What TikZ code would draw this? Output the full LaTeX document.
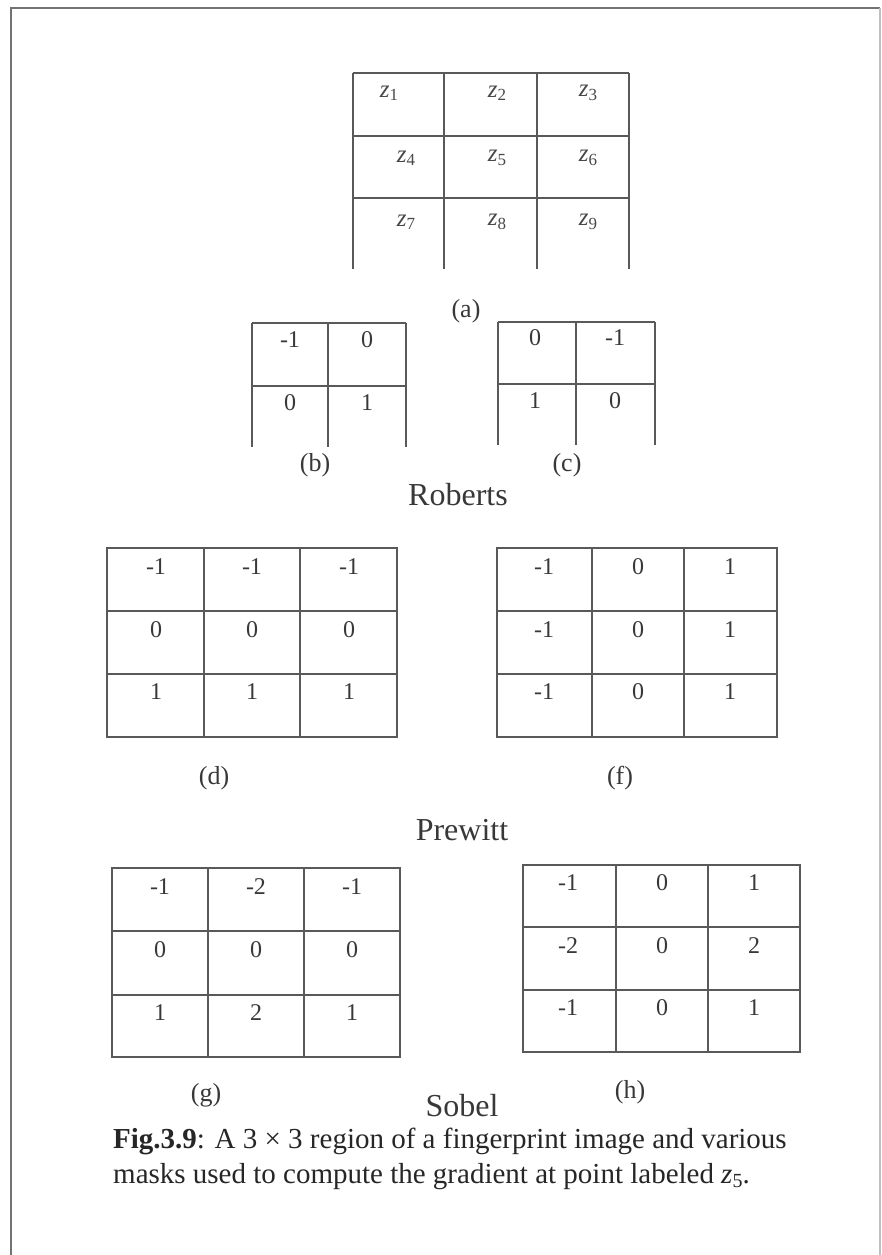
\documentclass[tikz,border=0pt]{standalone}
\usepackage{fontspec}
\setmainfont{Liberation Serif}
\newcommand{\zsub}[1]{\textit{z}\raisebox{-0.3ex}{\fontsize{17}{17}\selectfont #1}}
\begin{document}
\begin{tikzpicture}[x=1pt,y=-1pt,
  gridline/.style={draw=black!65, line width=1.3pt},
  frameline/.style={draw=black!55, line width=1.8pt},
  cell/.style={font=\fontsize{24}{28}\selectfont, text=black!78, inner sep=0pt},
  zcell/.style={font=\fontsize{25}{29}\selectfont, text=black!72, inner sep=0pt},
  sublabel/.style={font=\fontsize{26}{30}\selectfont, text=black!78, inner sep=0pt},
  method/.style={font=\fontsize{32}{36}\selectfont, text=black!78, inner sep=0pt},
  captiontext/.style={font=\fontsize{29}{35}\selectfont, text=black!85, inner sep=0pt, anchor=base west},
]
\useasboundingbox (0,0) rectangle (882,1255);
\draw[frameline] (11,1255) -- (11,8) -- (880,8);
\draw[draw=black!25, line width=1.2pt] (880,8) -- (880,1255);

% (a) region
\draw[gridline] (353,73) -- (629,73) (353,136) -- (629,136) (353,198) -- (629,198);
\foreach \x in {353,444,537,629} \draw[gridline] (\x,73) -- (\x,269);
\node[zcell] (z1) at (389,93) {\zsub{1}};
\node[zcell] (z2) at (497,93) {\zsub{2}};
\node[zcell] (z3) at (588,93) {\zsub{3}};
\node[zcell] (z4) at (406,158) {\zsub{4}};
\node[zcell] (z5) at (497,158) {\zsub{5}};
\node[zcell] (z6) at (588,158) {\zsub{6}};
\node[zcell] (z7) at (406,222) {\zsub{7}};
\node[zcell] (z8) at (497,222) {\zsub{8}};
\node[zcell] (z9) at (588,222) {\zsub{9}};
\node[sublabel] (la) at (466,311) {(a)};

% (b) Roberts
\draw[gridline] (252,323) -- (406,323) (252,386) -- (406,386);
\foreach \x in {252,328,406} \draw[gridline] (\x,323) -- (\x,447);
\node[cell] (b11) at (290,340) {-1};
\node[cell] (b12) at (367,340) {0};
\node[cell] (b21) at (290,403) {0};
\node[cell] (b22) at (367,403) {1};
\node[sublabel] (lb) at (315,465) {(b)};

% (c) Roberts
\draw[gridline] (498,322) -- (655,322) (498,384) -- (655,384);
\foreach \x in {498,576,655} \draw[gridline] (\x,322) -- (\x,445);
\node[cell] (c11) at (535,338) {0};
\node[cell] (c12) at (615,338) {-1};
\node[cell] (c21) at (535,401) {1};
\node[cell] (c22) at (615,401) {0};
\node[sublabel] (lc) at (567,465) {(c)};
\node[method] (roberts) at (458,495) {Roberts};

% (d) Prewitt
\draw[gridline] (107,548) rectangle (397,737);
\draw[gridline] (107,611) -- (397,611) (107,674) -- (397,674);
\draw[gridline] (204,548) -- (204,737) (300,548) -- (300,737);
\foreach \c/\x in {1/156,2/252,3/349} {
  \node[cell] (d1\c) at (\x,567) {-1};
  \node[cell] (d2\c) at (\x,630) {0};
  \node[cell] (d3\c) at (\x,692) {1};
}
\node[sublabel] (ld) at (214,778) {(d)};

% (f) Prewitt
\draw[gridline] (497,548) rectangle (777,737);
\draw[gridline] (497,611) -- (777,611) (497,674) -- (777,674);
\draw[gridline] (592,548) -- (592,737) (684,548) -- (684,737);
\foreach \r/\y in {1/567,2/630,3/692} {
  \node[cell] (f\r1) at (544,\y) {-1};
  \node[cell] (f\r2) at (638,\y) {0};
  \node[cell] (f\r3) at (730,\y) {1};
}
\node[sublabel] (lf) at (620,778) {(f)};
\node[method] (prewitt) at (462,830) {Prewitt};

% (g) Sobel
\draw[gridline] (112,868) rectangle (400,1057);
\draw[gridline] (112,931) -- (400,931) (112,995) -- (400,995);
\draw[gridline] (208,868) -- (208,1057) (304,868) -- (304,1057);
\node[cell] (g11) at (160,887) {-1};
\node[cell] (g12) at (256,887) {-2};
\node[cell] (g13) at (352,887) {-1};
\node[cell] (g21) at (160,950) {0};
\node[cell] (g22) at (256,950) {0};
\node[cell] (g23) at (352,950) {0};
\node[cell] (g31) at (160,1013) {1};
\node[cell] (g32) at (256,1013) {2};
\node[cell] (g33) at (352,1013) {1};
\node[sublabel] (lg) at (206,1095) {(g)};

% (h) Sobel
\draw[gridline] (523,865) rectangle (800,1052);
\draw[gridline] (523,927) -- (800,927) (523,990) -- (800,990);
\draw[gridline] (616,865) -- (616,1052) (708,865) -- (708,1052);
\node[cell] (h11) at (568,883) {-1};
\node[cell] (h12) at (662,883) {0};
\node[cell] (h13) at (754,883) {1};
\node[cell] (h21) at (568,946) {-2};
\node[cell] (h22) at (662,946) {0};
\node[cell] (h23) at (754,946) {2};
\node[cell] (h31) at (568,1008) {-1};
\node[cell] (h32) at (662,1008) {0};
\node[cell] (h33) at (754,1008) {1};
\node[sublabel] (lh) at (630,1092) {(h)};
\node[method] (sobel) at (462,1106) {Sobel};

% caption
\node[captiontext] (cap1) at (113,1148) {\textbf{Fig.3.9}: A 3 × 3 region of a fingerprint image and various};
\node[captiontext] (cap2) at (113,1183) {masks used to compute the gradient at point labeled \textit{z}\raisebox{-0.3ex}{\fontsize{20}{20}\selectfont 5}.};
\end{tikzpicture}
\end{document}
